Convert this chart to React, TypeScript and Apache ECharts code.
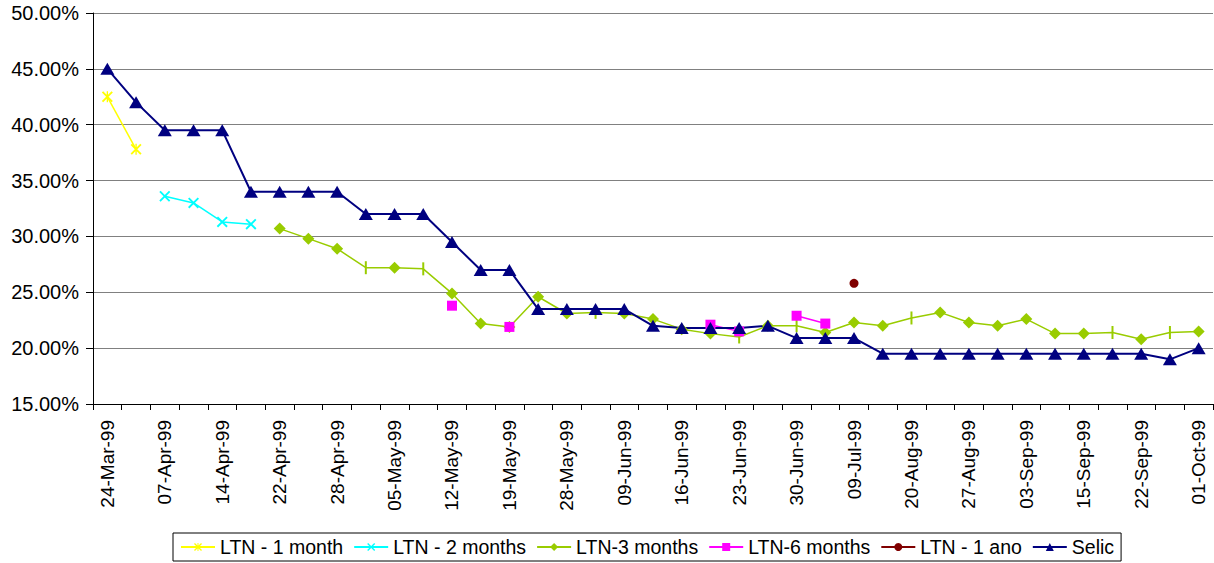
import React, { useEffect, useRef } from "react";
import * as echarts from "echarts";

const categories = [
  "24-Mar-99", "31-Mar-99", "07-Apr-99", "09-Apr-99", "14-Apr-99", "16-Apr-99",
  "22-Apr-99", "26-Apr-99", "28-Apr-99", "30-Apr-99", "05-May-99", "07-May-99",
  "12-May-99", "14-May-99", "19-May-99", "21-May-99", "28-May-99", "02-Jun-99",
  "09-Jun-99", "11-Jun-99", "16-Jun-99", "18-Jun-99", "23-Jun-99", "25-Jun-99",
  "30-Jun-99", "02-Jul-99", "09-Jul-99", "13-Aug-99", "20-Aug-99", "24-Aug-99",
  "27-Aug-99", "31-Aug-99", "03-Sep-99", "10-Sep-99", "15-Sep-99", "17-Sep-99",
  "22-Sep-99", "24-Sep-99", "01-Oct-99",
];

const N = null;

const ltn1m = [42.5, 37.8, N, N, N, N, N, N, N, N, N, N, N, N, N, N, N, N, N, N, N, N, N, N, N, N, N, N, N, N, N, N, N, N, N, N, N, N, N];

const ltn2m = [N, N, 33.6, 33.0, 31.3, 31.1, N, N, N, N, N, N, N, N, N, N, N, N, N, N, N, N, N, N, N, N, N, N, N, N, N, N, N, N, N, N, N, N, N];

const ltn3m = [N, N, N, N, N, N, 30.7, 29.8, 28.9, 27.2, 27.2, 27.1, 24.9, 22.2, 21.9, 24.6, 23.1, 23.2, 23.1, 22.6, 21.7, 21.3, 21.0, 22.0, 22.0, 21.4, 22.3, 22.0, 22.7, 23.2, 22.3, 22.0, 22.6, 21.3, 21.3, 21.4, 20.8, 21.4, 21.5];

// indices where the LTN-3 months point is drawn with a dash marker
const ltn3mDashIdx = [9, 11, 17, 22, 24, 28, 35, 37];

const ltn6m = [N, N, N, N, N, N, N, N, N, N, N, N, 23.8, N, 21.9, N, N, N, N, N, N, 22.1, 21.5, N, 22.9, 22.2, N, N, N, N, N, N, N, N, N, N, N, N, N];

const ltn1ano = [N, N, N, N, N, N, N, N, N, N, N, N, N, N, N, N, N, N, N, N, N, N, N, N, N, N, 25.8, N, N, N, N, N, N, N, N, N, N, N, N];

const selic = [45.0, 42.0, 39.5, 39.5, 39.5, 34.0, 34.0, 34.0, 34.0, 32.0, 32.0, 32.0, 29.5, 27.0, 27.0, 23.5, 23.5, 23.5, 23.5, 22.0, 21.8, 21.8, 21.8, 22.0, 20.9, 20.9, 20.9, 19.5, 19.5, 19.5, 19.5, 19.5, 19.5, 19.5, 19.5, 19.5, 19.5, 19.0, 20.0];

const FONT = "'Liberation Sans', Arial, sans-serif";

const xPath = "path://M0,1.2 L1.2,0 L10,8.8 L8.8,10 Z M8.8,0 L10,1.2 L1.2,10 L0,8.8 Z";
const starPath = "path://M0,1.2 L1.2,0 L10,8.8 L8.8,10 Z M8.8,0 L10,1.2 L1.2,10 L0,8.8 Z M4.4,0 L5.6,0 L5.6,10 L4.4,10 Z";

export default function App() {
  const ref = useRef<HTMLDivElement>(null);

  useEffect(() => {
    if (!ref.current) return;
    const chart = echarts.init(ref.current, undefined, { renderer: "svg" });

    const ltn3Data = ltn3m.map((v, i) =>
      v === null
        ? null
        : ltn3mDashIdx.includes(i)
        ? { value: v, symbol: "rect", symbolSize: [2, 13] }
        : { value: v }
    );

    const common = {
      type: "line",
      showAllSymbol: true,
      connectNulls: false,
      animation: false,
      emphasis: { disabled: true },
    };

    chart.setOption({
      animation: false,
      textStyle: { fontFamily: FONT },
      grid: { left: 93, right: 1, top: 13, bottom: 159, containLabel: false },
      legend: {
        bottom: 2,
        left: 173,
        borderColor: "#000",
        borderWidth: 1,
        padding: [4, 7],
        itemGap: 10,
        itemWidth: 34,
        itemHeight: 10,
        textStyle: { fontSize: 19.5, color: "#000", fontFamily: FONT },
        data: ["LTN - 1 month", "LTN - 2 months", "LTN-3 months", "LTN-6 months", "LTN - 1 ano", "Selic"],
      },
      xAxis: {
        type: "category",
        data: categories,
        boundaryGap: true,
        axisLine: { lineStyle: { color: "#000", width: 1 } },
        axisTick: { show: true, interval: 0, length: 6, lineStyle: { color: "#000" } },
        axisLabel: {
          interval: 1,
          rotate: 90,
          fontSize: 19,
          color: "#000",
          margin: 16,
          fontFamily: FONT,
        },
        splitLine: { show: false },
      },
      yAxis: {
        type: "value",
        min: 15,
        max: 50,
        interval: 5,
        axisLine: { show: true, lineStyle: { color: "#000", width: 1 } },
        axisTick: { show: true, length: 7, lineStyle: { color: "#000" } },
        axisLabel: {
          formatter: (v: number) => v.toFixed(2) + "%",
          fontSize: 20,
          color: "#000",
          margin: 14,
          fontFamily: FONT,
        },
        splitLine: { show: true, lineStyle: { color: "#808080", width: 1 } },
      },
      series: [
        {
          ...common,
          name: "LTN - 1 month",
          data: ltn1m,
          color: "#FFFF00",
          symbol: starPath,
          symbolSize: 11,
          lineStyle: { color: "#FFFF00", width: 1.5 },
          itemStyle: { color: "#FFFF00" },
        },
        {
          ...common,
          name: "LTN - 2 months",
          data: ltn2m,
          color: "#00FFFF",
          symbol: xPath,
          symbolSize: 11,
          lineStyle: { color: "#00FFFF", width: 1.5 },
          itemStyle: { color: "#00FFFF" },
        },
        {
          ...common,
          name: "LTN-3 months",
          data: ltn3Data,
          color: "#99CC00",
          symbol: "diamond",
          symbolSize: 12,
          lineStyle: { color: "#99CC00", width: 1.5 },
          itemStyle: { color: "#99CC00" },
        },
        {
          ...common,
          name: "LTN-6 months",
          data: ltn6m,
          color: "#FF00FF",
          symbol: "rect",
          symbolSize: 10,
          lineStyle: { color: "#FF00FF", width: 1.5 },
          itemStyle: { color: "#FF00FF" },
        },
        {
          ...common,
          name: "LTN - 1 ano",
          data: ltn1ano,
          color: "#800000",
          symbol: "circle",
          symbolSize: 9,
          lineStyle: { color: "#800000", width: 1.5 },
          itemStyle: { color: "#800000" },
        },
        {
          ...common,
          name: "Selic",
          data: selic,
          color: "#000080",
          symbol: "triangle",
          symbolSize: [14, 12],
          lineStyle: { color: "#000080", width: 2 },
          itemStyle: { color: "#000080" },
        },
      ],
    });

    return () => chart.dispose();
  }, []);

  return (
    <div
      ref={ref}
      style={{ position: "fixed", left: 0, top: 0, width: 1214, height: 563, background: "#fff" }}
    />
  );
}
